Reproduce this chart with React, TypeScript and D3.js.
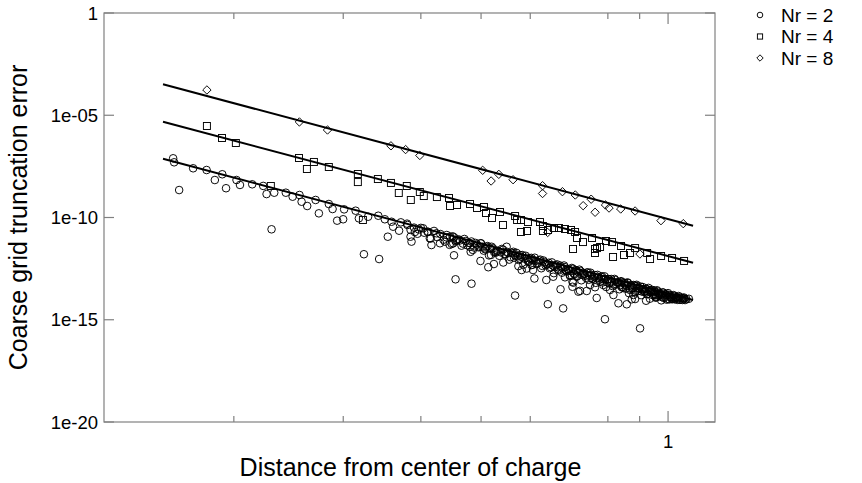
import React from "react";
import * as d3 from "d3";

const W = 862;
const H = 483;

const yTickValues = [1, 1e-5, 1e-10, 1e-15, 1e-20];
const yTickLabels = ["1", "1e-05", "1e-10", "1e-15", "1e-20"];
const xTickValues = [0.2, 0.3, 0.4, 0.5, 0.6, 0.8, 0.9, 1];
const xMajorTicks = [1];
const xTickLabels = ["1"];

const seriesNames = ["Nr = 2", "Nr = 4", "Nr = 8"];

// fitted lines: [r, error] end points
const fitR = [0.1538, 1.097];
const fitNr2 = [7.5e-8, 9.3e-15];
const fitNr4 = [4.83e-6, 6.16e-13];
const fitNr8 = [3.26e-4, 3.98e-11];

const nr8Data: [number, number][] = [
  [0.181, 1.72e-4], [0.255, 4.7e-6], [0.283, 1.9e-6], [0.358, 3.2e-7], [0.378, 2.1e-7],
  [0.3985, 1.08e-7], [0.503, 2.03e-8], [0.534, 1.29e-8], [0.519, 6.1e-9], [0.563, 7.05e-9],
  [0.628, 3.6e-9], [0.628, 1.49e-9], [0.676, 1.83e-9], [0.709, 1.26e-9], [0.752, 7.85e-10],
  [0.73, 3.78e-10], [0.763, 1.8e-10], [0.793, 4.1e-10], [0.8035, 2.9e-10], [0.839, 2.6e-10],
  [0.885, 2.08e-10], [0.974, 7.0e-11], [1.058, 5.0e-11], [0.901, 1.64e-12], [0.64, 1.85e-11],
];

const nr4Data: [number, number][] = [
  [0.181, 2.98e-6], [0.1914, 7.7e-7], [0.2015, 4.4e-7], [0.2294, 3.47e-9], [0.2546, 8.1e-8],
  [0.2622, 2.35e-8], [0.2691, 5.2e-8], [0.2844, 2.95e-8], [0.3167, 1.34e-8], [0.3167, 5.4e-9],
  [0.3227, 7.55e-11], [0.3411, 7.6e-9], [0.358, 4.9e-9], [0.3686, 1.58e-9], [0.3797, 3.47e-9],
  [0.3854, 7.2e-10], [0.3985, 1.77e-9], [0.4044, 1.12e-9], [0.4245, 1.0e-9], [0.444, 8.97e-10],
  [0.4457, 3.65e-10], [0.4574, 4.08e-10], [0.4799, 4.57e-10], [0.4925, 2.91e-10], [0.5054, 3.26e-10],
  [0.5092, 1.66e-10], [0.5207, 9.45e-11], [0.5363, 1.86e-10], [0.5423, 4.3e-11], [0.5672, 1.18e-10],
  [0.5714, 7.55e-11], [0.5797, 7.55e-11], [0.5951, 6.0e-11], [0.5797, 1.95e-11], [0.5929, 2.19e-11],
  [0.622, 6.0e-11], [0.6289, 3.84e-11], [0.6289, 2.19e-11], [0.6409, 2.45e-11], [0.6553, 3.06e-11],
  [0.6675, 3.06e-11], [0.6825, 2.74e-11], [0.6979, 2.45e-11], [0.7084, 1.95e-11], [0.7136, 9.93e-12],
  [0.7296, 6.3e-12], [0.7031, 2.88e-12], [0.7544, 9.93e-12], [0.7628, 2.88e-12], [0.7628, 1.84e-12],
  [0.7684, 3.2e-12], [0.7772, 3.6e-12], [0.7945, 7.1e-12], [0.8125, 6.3e-12], [0.84, 4.04e-12],
  [0.8155, 1.17e-12], [0.8493, 1.47e-12], [0.8686, 1.84e-12], [0.8849, 3.2e-12], [0.9253, 1.84e-12],
  [0.9354, 9.3e-13], [0.9744, 1.31e-12], [1.0149, 1.05e-12], [1.0611, 7.5e-13],
];

const nr2Data: [number, number][] = [
  [0.1597, 7.85e-8], [0.1603, 5.0e-8], [0.1633, 2.2e-9], [0.172, 2.55e-8], [0.1808, 2.1e-8],
  [0.1864, 6.8e-9], [0.1916, 1.3e-8], [0.1943, 2.7e-9], [0.202, 6.8e-9], [0.2046, 3.9e-9],
  [0.2141, 4.2e-9], [0.223, 3.5e-9], [0.2258, 1.4e-9], [0.2323, 1.63e-9], [0.23, 2.65e-11],
  [0.2425, 1.63e-9], [0.2487, 1.04e-9], [0.2551, 1.26e-9], [0.2571, 5.9e-10], [0.2625, 3.65e-10],
  [0.2708, 7.2e-10], [0.2741, 1.6e-10], [0.2844, 4.57e-10], [0.2884, 2.6e-10], [0.2933, 7.0e-11],
  [0.2999, 8.2e-11], [0.301, 2.5e-10], [0.3141, 2.15e-10], [0.3179, 9.1e-11], [0.3239, 1.6e-12],
  [0.329, 1.09e-10], [0.3427, 9.3e-13], [0.3416, 1.22e-10], [0.35, 8.2e-11], [0.3539, 1.15e-11],
  [0.3588, 6.2e-11], [0.3609, 3.55e-11], [0.369, 2.26e-11], [0.3714, 5.8e-11], [0.3807, 4.3e-11],
  [0.385, 1.15e-11], [0.3864, 6.6e-12], [0.3912, 1.95e-11], [0.397, 2.6e-11], [0.4034, 2.96e-11],
  [0.4109, 2.0e-11], [0.4135, 9.6e-12], [0.416, 4.5e-12], [0.4238, 1.69e-11], [0.4294, 5.5e-12],
  [0.4374, 6.6e-12], [0.4403, 1.39e-11], [0.4457, 1.15e-11], [0.4485, 5.1e-12], [0.4523, 1.42e-12],
  [0.4557, 7.9e-12], [0.4549, 9.5e-14], [0.4826, 5.8e-14], [0.451, 5.5e-12], [0.4799, 3.7e-12],
  [0.4811, 2.1e-12], [0.4989, 7.5e-13], [0.4993, 5.5e-12], [0.5073, 3.1e-12], [0.5136, 3.7e-13],
  [0.5187, 1.47e-12], [0.5244, 5.3e-13], [0.5283, 2.1e-12], [0.5429, 6.3e-13], [0.5497, 3.7e-12],
  [0.5637, 2.1e-12], [0.5672, 1.53e-14], [0.5742, 4.2e-13], [0.5776, 1.47e-12], [0.5812, 2.7e-13],
  [0.5921, 3.2e-13], [0.5955, 6.9e-13], [0.6027, 4.75e-13], [0.6063, 2.7e-13], [0.6093, 1.04e-13],
  [0.6368, 8.8e-14], [0.6404, 5.75e-15], [0.6533, 1.27e-13], [0.6713, 3.1e-14], [0.6778, 3.6e-15],
  [0.6825, 1.19e-13], [0.7016, 7.3e-14], [0.7016, 4.1e-14], [0.7172, 2.35e-14], [0.7216, 2.6e-14],
  [0.7398, 2.55e-14], [0.7676, 1.16e-14], [0.7914, 1.06e-15], [0.9014, 3.8e-16], [0.8319, 6.4e-15],
  [0.858, 5.7e-15], [0.8849, 1.03e-14], [0.9218, 8.5e-15], [0.8166, 1.62e-14], [0.8686, 2.85e-14],
  [0.9184, 2.35e-14], [0.953, 1.62e-14], [0.9708, 1.53e-14], [1.0074, 1.32e-14], [1.0328, 1.22e-14],
  [1.0584, 1.09e-14], [0.7037, 6.5e-14], [0.6953, 1.54e-13], [0.7128, 1.27e-13], [0.7488, 5.0e-14],
  [0.7628, 3.9e-14], [0.7865, 5.0e-14], [0.8065, 2.85e-14], [0.8422, 3.9e-14], [0.8526, 6.1e-14],
  [0.8904, 4.5e-14], [0.9072, 3.1e-14], [0.9354, 2.85e-14], [0.874, 1.0e-14], [0.8792, 1.62e-14],
  [0.9566, 1.25e-14],
  // dense band near the fitted line
  [0.38, 5.0e-11], [0.39, 3.2e-11], [0.4, 3.1e-11], [0.41, 2.0e-11], [0.42, 2.2e-11],
  [0.43, 1.55e-11], [0.44, 1.06e-11], [0.45, 1.2e-11], [0.46, 8.5e-12], [0.47, 8.9e-12],
  [0.48, 5.6e-12], [0.49, 5.7e-12], [0.5, 5.4e-12], [0.51, 3.7e-12], [0.52, 3.7e-12],
  [0.53, 2.35e-12], [0.54, 2.9e-12], [0.55, 2.1e-12], [0.56, 1.9e-12], [0.57, 1.87e-12],
  [0.58, 1.2e-12], [0.59, 1.34e-12], [0.6, 9.8e-13], [0.61, 1.08e-12], [0.62, 8.0e-13],
  [0.63, 7.9e-13], [0.64, 5.1e-13], [0.65, 6.4e-13], [0.66, 4.6e-13], [0.67, 4.5e-13],
  [0.68, 4.5e-13], [0.69, 3.0e-13], [0.7, 3.4e-13], [0.71, 2.7e-13], [0.72, 2.8e-13],
  [0.73, 2.0e-13], [0.74, 2.0e-13], [0.75, 2.0e-13], [0.76, 1.27e-13], [0.77, 1.56e-13],
  [0.78, 1.26e-13], [0.79, 1.33e-13], [0.8, 9.6e-14], [0.81, 9.8e-14], [0.82, 9.9e-14],
  [0.83, 6.7e-14], [0.84, 7.7e-14], [0.85, 6.3e-14], [0.86, 6.7e-14], [0.87, 4.9e-14],
  [0.88, 5.0e-14], [0.89, 5.1e-14], [0.9, 3.5e-14], [0.91, 4.0e-14], [0.92, 3.3e-14],
  [0.93, 3.6e-14], [0.94, 2.6e-14], [0.95, 2.7e-14], [0.96, 2.75e-14], [0.97, 2.0e-14],
  [0.98, 2.2e-14], [0.99, 1.8e-14], [1.0, 2.0e-14], [1.01, 1.55e-14], [1.02, 1.6e-14],
  [1.03, 1.25e-14], [1.04, 1.44e-14], [1.05, 1.2e-14], [1.06, 1.23e-14], [1.07, 1.03e-14],
  [1.08, 1.06e-14],
  [0.385, 2.5e-11], [0.395, 1.6e-11], [0.405, 1.8e-11], [0.415, 9.4e-12], [0.425, 1.1e-11],
  [0.435, 8.2e-12], [0.445, 4.6e-12], [0.455, 6.9e-12], [0.465, 4.2e-12], [0.475, 4.4e-12],
  [0.485, 2.6e-12], [0.495, 3.5e-12], [0.505, 2.4e-12], [0.515, 1.4e-12], [0.525, 2.0e-12],
  [0.535, 1.34e-12], [0.545, 1.6e-12], [0.555, 8.7e-13], [0.565, 1.08e-12], [0.575, 8.4e-13],
  [0.585, 4.9e-13], [0.595, 7.8e-13], [0.605, 4.9e-13], [0.615, 5.4e-13], [0.625, 3.3e-13],
  [0.635, 4.6e-13], [0.645, 3.3e-13], [0.655, 1.9e-13], [0.665, 2.85e-13], [0.675, 2.0e-13],
  [0.685, 2.5e-13], [0.695, 1.4e-13], [0.705, 1.8e-13], [0.715, 1.4e-13], [0.725, 8.5e-14],
  [0.735, 1.4e-13], [0.745, 9.0e-14], [0.755, 1.0e-13], [0.765, 6.4e-14], [0.775, 9.0e-14],
  [0.785, 6.7e-14], [0.795, 4.0e-14], [0.805, 6.0e-14], [0.815, 4.4e-14], [0.825, 5.4e-14],
  [0.835, 3.1e-14], [0.845, 4.0e-14], [0.855, 3.3e-14], [0.865, 2.0e-14], [0.875, 3.4e-14],
  [0.885, 2.2e-14], [0.895, 2.5e-14], [0.905, 1.6e-14], [0.915, 2.3e-14], [0.925, 1.75e-14],
  [0.935, 1.07e-14], [0.945, 1.6e-14], [0.955, 1.2e-14], [0.965, 1.5e-14], [0.975, 8.9e-15],
  [0.985, 1.17e-14], [0.995, 9.6e-15], [1.005, 9.9e-15], [1.015, 1.0e-14], [1.025, 1.0e-14],
  [1.035, 9.4e-15], [1.045, 9.4e-15], [1.055, 9.3e-15], [1.065, 9.2e-15],
  [0.4525, 1.07e-11], [0.4625, 7.6e-12], [0.4725, 7.1e-12], [0.4825, 6.7e-12], [0.4925, 4.8e-12],
  [0.5025, 3.7e-12], [0.5125, 4.0e-12], [0.5225, 3.1e-12], [0.5325, 2.35e-12], [0.5425, 2.66e-12],
  [0.5525, 1.84e-12], [0.5625, 1.76e-12], [0.5725, 1.27e-12], [0.5825, 1.46e-12], [0.5925, 1.07e-12],
  [0.6025, 1.06e-12], [0.6125, 7.6e-13], [0.6225, 8.7e-13], [0.6325, 6.5e-13], [0.6425, 6.1e-13],
  [0.6525, 4.5e-13], [0.6625, 5.1e-13], [0.6725, 3.7e-13], [0.6825, 3.7e-13], [0.6925, 2.7e-13],
  [0.7025, 3.1e-13], [0.7125, 2.4e-13], [0.7225, 2.4e-13], [0.7325, 1.76e-13], [0.7425, 2.08e-13],
  [0.7525, 1.58e-13], [0.7625, 1.53e-13], [0.7725, 1.15e-13], [0.7825, 1.33e-13], [0.7925, 9.8e-14],
  [0.8025, 9.8e-14], [0.8125, 7.4e-14], [0.8225, 8.7e-14], [0.8325, 6.8e-14], [0.8425, 7.0e-14],
  [0.8525, 5.2e-14], [0.8625, 6.2e-14], [0.8725, 4.8e-14], [0.8825, 4.7e-14], [0.8925, 3.6e-14],
  [0.9025, 4.2e-14], [0.9125, 3.1e-14], [0.9225, 3.2e-14], [0.9325, 2.4e-14], [0.9425, 2.9e-14],
  [0.9525, 2.3e-14], [0.9625, 2.4e-14], [0.9725, 1.77e-14], [0.9825, 2.1e-14], [0.9925, 1.67e-14],
  [1.0025, 1.66e-14], [1.0125, 1.31e-14], [1.0225, 1.48e-14], [1.0325, 1.25e-14], [1.0425, 1.24e-14],
  [1.0525, 1.09e-14], [1.0625, 1.11e-14],
  [0.4575, 7.6e-12], [0.4675, 5.3e-12], [0.4775, 5.8e-12], [0.4875, 3.4e-12], [0.4975, 3.7e-12],
  [0.5075, 2.8e-12], [0.5175, 3.0e-12], [0.5275, 1.88e-12], [0.5375, 2.0e-12], [0.5475, 1.59e-12],
  [0.5575, 1.15e-12], [0.5675, 1.38e-12], [0.5775, 9.7e-13], [0.5875, 9.7e-13], [0.5975, 6.8e-13],
  [0.6075, 8.1e-13], [0.6175, 5.9e-13], [0.6275, 4.3e-13], [0.6375, 5.2e-13], [0.6475, 3.7e-13],
  [0.6575, 3.7e-13], [0.6675, 2.6e-13], [0.6775, 3.2e-13], [0.6875, 2.3e-13], [0.6975, 2.4e-13],
  [0.7075, 1.7e-13], [0.7175, 2.1e-13], [0.7275, 1.55e-13], [0.7375, 1.13e-13], [0.7475, 1.4e-13],
  [0.7575, 1.02e-13], [0.7675, 1.06e-13], [0.7775, 7.5e-14], [0.7875, 9.5e-14], [0.7975, 6.9e-14],
  [0.8075, 7.2e-14], [0.8175, 5.2e-14], [0.8275, 6.5e-14], [0.8375, 4.9e-14], [0.8475, 3.6e-14],
  [0.8575, 4.6e-14], [0.8675, 3.35e-14], [0.8775, 3.5e-14], [0.8875, 2.6e-14], [0.8975, 3.25e-14],
  [0.9075, 2.4e-14], [0.9175, 2.5e-14], [0.9275, 1.86e-14], [0.9375, 2.35e-14], [0.9475, 1.8e-14],
  [0.9575, 1.35e-14], [0.9675, 1.7e-14], [0.9775, 1.27e-14], [0.9875, 1.35e-14], [0.9975, 1.07e-14],
  [1.0075, 1.27e-14], [1.0175, 1.09e-14], [1.0275, 1.11e-14], [1.0375, 1.09e-14],
];

const FONT = "'Liberation Sans', Arial, Helvetica, sans-serif";
const FRAME = "#808080";
const MARK = "#000";

const plot = { left: 104, right: 715, top: 13, bottom: 422 };

export default function App() {
  const x = d3.scaleLog().domain([0.1236, 1.19]).range([plot.left, plot.right]);
  const y = d3.scaleLog().domain([1e-20, 1]).range([plot.bottom, plot.top]);

  const line = d3
    .line<[number, number]>()
    .x((d) => x(d[0]))
    .y((d) => y(d[1]));

  const fits = [fitNr2, fitNr4, fitNr8].map((f) =>
    fitR.map((r, i) => [r, f[i]] as [number, number])
  );

  const circle = (cx: number, cy: number, r: number, key: string) => (
    <circle key={key} cx={cx} cy={cy} r={r} fill="none" stroke={MARK} strokeWidth={0.95} />
  );
  const square = (cx: number, cy: number, s: number, key: string) => (
    <rect key={key} x={cx - s} y={cy - s} width={2 * s} height={2 * s} fill="none" stroke={MARK} strokeWidth={0.95} />
  );
  const diamond = (cx: number, cy: number, s: number, key: string) => (
    <path
      key={key}
      d={`M${cx},${cy - s}L${cx + s},${cy}L${cx},${cy + s}L${cx - s},${cy}Z`}
      fill="none"
      stroke={MARK}
      strokeWidth={0.95}
    />
  );

  const legendY = [15, 36.5, 58];

  return (
    <svg
      width={W}
      height={H}
      style={{ position: "absolute", left: 0, top: 0, background: "#fff" }}
      fontFamily={FONT}
    >
      <rect x={0} y={0} width={W} height={H} fill="#fff" />
      {/* frame */}
      <rect
        x={plot.left}
        y={plot.top}
        width={plot.right - plot.left}
        height={plot.bottom - plot.top}
        fill="none"
        stroke={FRAME}
        strokeWidth={1.2}
      />
      {/* y ticks */}
      {yTickValues.map((v, i) => (
        <g key={"yt" + i}>
          <line x1={plot.left} x2={plot.left + 10} y1={y(v)} y2={y(v)} stroke={FRAME} strokeWidth={1.2} />
          <line x1={plot.right} x2={plot.right - 10} y1={y(v)} y2={y(v)} stroke={FRAME} strokeWidth={1.2} />
          <text x={plot.left - 6} y={y(v)} dy="0.36em" textAnchor="end" fontSize={18.5}>
            {yTickLabels[i]}
          </text>
        </g>
      ))}
      {/* x ticks */}
      {xTickValues.map((v, i) => {
        const len = xMajorTicks.includes(v) ? 11 : 6;
        return (
          <g key={"xt" + i}>
            <line x1={x(v)} x2={x(v)} y1={plot.bottom} y2={plot.bottom - len} stroke={FRAME} strokeWidth={1.2} />
            <line x1={x(v)} x2={x(v)} y1={plot.top} y2={plot.top + len} stroke={FRAME} strokeWidth={1.2} />
          </g>
        );
      })}
      {xMajorTicks.map((v, i) => (
        <text key={"xl" + i} x={x(v)} y={plot.bottom + 26} textAnchor="middle" fontSize={18.5}>
          {xTickLabels[i]}
        </text>
      ))}
      {/* axis titles */}
      <text x={(plot.left + plot.right) / 2 + 1} y={476} textAnchor="middle" fontSize={25}>
        Distance from center of charge
      </text>
      <text
        transform={`translate(27, ${(plot.top + plot.bottom) / 2}) rotate(-90)`}
        textAnchor="middle"
        fontSize={25}
      >
        Coarse grid truncation error
      </text>
      {/* fit lines */}
      {fits.map((f, i) => (
        <path key={"fit" + i} d={line(f) || ""} fill="none" stroke="#000" strokeWidth={2} />
      ))}
      {/* markers */}
      {nr2Data.map((d, i) => circle(x(d[0]), y(d[1]), 3.8, "c" + i))}
      {nr4Data.map((d, i) => square(x(d[0]), y(d[1]), 3.5, "s" + i))}
      {nr8Data.map((d, i) => diamond(x(d[0]), y(d[1]), 4.2, "d" + i))}
      {/* legend */}
      {seriesNames.map((name, i) => (
        <g key={"lg" + i}>
          {i === 0 && circle(760, legendY[i], 2.8, "lgm0")}
          {i === 1 && square(760, legendY[i], 2.6, "lgm1")}
          {i === 2 && diamond(760, legendY[i], 3.2, "lgm2")}
          <text x={781} y={legendY[i]} dy="0.36em" fontSize={19}>
            {name}
          </text>
        </g>
      ))}
    </svg>
  );
}
